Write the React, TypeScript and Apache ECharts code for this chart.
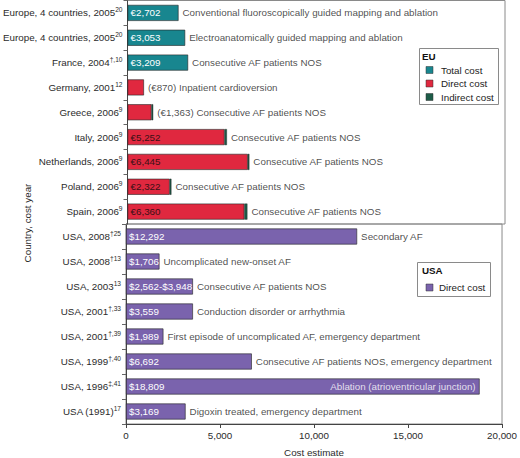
import React, { useEffect, useRef } from "react";
import * as echarts from "echarts";

const FONT = '"Liberation Sans", Arial, Helvetica, sans-serif';
const FS = 9.8;

// EU block
const euCountries = [
  "Europe, 4 countries, 2005",
  "Europe, 4 countries, 2005",
  "France, 2004",
  "Germany, 2001",
  "Greece, 2006",
  "Italy, 2006",
  "Netherlands, 2006",
  "Poland, 2006",
  "Spain, 2006",
];
const euRefs = ["20", "20", "†,10", "12", "9", "9", "9", "9", "9"];
const euTotal: (number | null)[] = [2702, 3053, 3209, null, null, null, null, null, null];
const euDirect: (number | null)[] = [null, null, null, 870, 1270, 5140, 6370, 2235, 6190];
const euIndirect: (number | null)[] = [null, null, null, null, 90, 125, 85, 90, 160];
const euValueLabels = ["€2,702", "€3,053", "€3,209", "", "", "€5,252", "€6,445", "€2,322", "€6,360"];
const euNotes = [
  "Conventional fluoroscopically guided mapping and ablation",
  "Electroanatomically guided mapping and ablation",
  "Consecutive AF patients NOS",
  "(€870) Inpatient cardioversion",
  "(€1,363) Consecutive AF patients NOS",
  "Consecutive AF patients NOS",
  "Consecutive AF patients NOS",
  "Consecutive AF patients NOS",
  "Consecutive AF patients NOS",
];

// USA block
const usaCountries = [
  "USA, 2008",
  "USA, 2008",
  "USA, 2003",
  "USA, 2001",
  "USA, 2001",
  "USA, 1999",
  "USA, 1996",
  "USA (1991)",
];
const usaRefs = ["†25", "†13", "13", "†,33", "†,39", "†,40", "‡,41", "17"];
const usaDirect = [12292, 1780, 3560, 3559, 1989, 6692, 18809, 3169];
const usaValueLabels = ["$12,292", "$1,706", "$2,562-$3,948", "$3,559", "$1,989", "$6,692", "$18,809", "$3,169"];
const usaNotes = [
  "Secondary AF",
  "Uncomplicated new-onset AF",
  "Consecutive AF patients NOS",
  "Conduction disorder or arrhythmia",
  "First episode of uncomplicated AF, emergency department",
  "Consecutive AF patients NOS, emergency department",
  "Ablation (atrioventricular junction)",
  "Digoxin treated, emergency department",
];
const usaNoteInside = [false, false, false, false, false, false, true, false];

const xTicks = { min: 0, max: 20000, interval: 5000 };

const TEAL = "#18868f";
const RED = "#e0283f";
const DARKGREEN = "#1d5c48";
const PURPLE = "#7a63ad";

const fmtNum = (v: number) => v.toLocaleString("en-US");

export default function App() {
  const ref = useRef<HTMLDivElement>(null);
  useEffect(() => {
    if (!ref.current) return;
    const chart = echarts.init(ref.current, null, { renderer: "svg" });

    const euEnd = euCountries.map(
      (_, i) => (euTotal[i] ?? 0) + (euDirect[i] ?? 0) + (euIndirect[i] ?? 0)
    );

    const catLabel = (names: string[], refs: string[]) => ({
      interval: 0,
      margin: 5,
      formatter: (v: string) => {
        const i = Number(v);
        return `{a|${names[i]}}{s|${refs[i]}}`;
      },
      rich: {
        a: { fontSize: FS, fontFamily: FONT, color: "#2b2b2b", lineHeight: 13 },
        s: { fontSize: 6.6, fontFamily: FONT, color: "#2b2b2b", lineHeight: 6, verticalAlign: "top" },
      },
    });

    const barBase = {
      type: "bar",
      barWidth: 16,
      silent: true,
    };
    const border = { borderColor: "#222", borderWidth: 0.6 };

    chart.setOption({
      animation: false,
      textStyle: { fontFamily: FONT },
      grid: [
        { left: 126, top: 0.5, width: 379, height: 223.5, show: true, borderColor: "#8a8a8a", borderWidth: 1 },
        { left: 126, top: 224, width: 379, height: 200, show: true, borderColor: "#8a8a8a", borderWidth: 1 },
      ],
      xAxis: [
        { type: "value", gridIndex: 0, ...xTicks, show: false, splitLine: { show: false } },
        {
          type: "value",
          gridIndex: 1,
          ...xTicks,
          splitLine: { show: false },
          axisLine: { show: true, lineStyle: { color: "#444" } },
          axisTick: { show: true, length: 4, lineStyle: { color: "#444" } },
          axisLabel: {
            margin: 6,
            fontSize: FS,
            color: "#2b2b2b",
            fontFamily: FONT,
            formatter: (v: number) => fmtNum(v),
          },
          name: "Cost estimate",
          nameLocation: "middle",
          nameGap: 23,
          nameTextStyle: { fontSize: FS, color: "#2b2b2b", fontFamily: FONT },
        },
      ],
      yAxis: [
        {
          type: "category",
          gridIndex: 0,
          inverse: true,
          data: euCountries.map((_, i) => String(i)),
          axisLine: { show: true, lineStyle: { color: "#444" } },
          axisTick: { show: true, length: 4, lineStyle: { color: "#666" } },
          axisLabel: catLabel(euCountries, euRefs),
        },
        {
          type: "category",
          gridIndex: 1,
          inverse: true,
          data: usaCountries.map((_, i) => String(i)),
          axisLine: { show: true, lineStyle: { color: "#444" } },
          axisTick: { show: true, length: 4, lineStyle: { color: "#666" } },
          axisLabel: catLabel(usaCountries, usaRefs),
        },
      ],
      series: [
        {
          ...barBase,
          name: "Total cost",
          xAxisIndex: 0,
          yAxisIndex: 0,
          stack: "eu",
          data: euTotal,
          itemStyle: { color: TEAL, ...border },
          label: {
            show: true,
            position: "insideLeft",
            distance: 3,
            color: "#fff",
            fontSize: FS,
            fontFamily: FONT,
            formatter: (p: any) => euValueLabels[p.dataIndex],
          },
        },
        {
          ...barBase,
          name: "Direct cost",
          xAxisIndex: 0,
          yAxisIndex: 0,
          stack: "eu",
          data: euDirect,
          itemStyle: { color: RED, ...border },
          label: {
            show: true,
            position: "insideLeft",
            distance: 3,
            color: "#3a1016",
            fontSize: FS,
            fontFamily: FONT,
            formatter: (p: any) => euValueLabels[p.dataIndex],
          },
        },
        {
          ...barBase,
          name: "Indirect cost",
          xAxisIndex: 0,
          yAxisIndex: 0,
          stack: "eu",
          data: euIndirect,
          itemStyle: { color: DARKGREEN, borderColor: "#222", borderWidth: 0.4 },
        },
        {
          type: "scatter",
          name: "EU notes",
          xAxisIndex: 0,
          yAxisIndex: 0,
          symbolSize: 0,
          silent: true,
          z: 5,
          data: euNotes.map((_, i) => [euEnd[i], i]),
          label: {
            show: true,
            position: "right",
            distance: 4,
            color: "#222",
            fontSize: FS,
            fontFamily: FONT,
            formatter: (p: any) => euNotes[p.dataIndex],
          },
        },
        {
          ...barBase,
          name: "USA Direct cost",
          xAxisIndex: 1,
          yAxisIndex: 1,
          data: usaDirect,
          itemStyle: { color: PURPLE, ...border },
          label: {
            show: true,
            position: "insideLeft",
            distance: 3,
            color: "#fff",
            fontSize: FS,
            fontFamily: FONT,
            formatter: (p: any) => usaValueLabels[p.dataIndex],
          },
        },
        {
          type: "scatter",
          name: "USA notes",
          xAxisIndex: 1,
          yAxisIndex: 1,
          symbolSize: 0,
          silent: true,
          z: 5,
          data: usaNotes.map((_, i) =>
            usaNoteInside[i]
              ? { value: [usaDirect[i], i], label: { position: "left", color: "#fff" } }
              : { value: [usaDirect[i], i] }
          ),
          label: {
            show: true,
            position: "right",
            distance: 4,
            color: "#222",
            fontSize: FS,
            fontFamily: FONT,
            formatter: (p: any) => usaNotes[p.dataIndex],
          },
        },
      ],
      graphic: [
        {
          type: "text",
          x: 27,
          y: 223,
          rotation: Math.PI / 2,
          style: {
            text: "Country, cost year",
            align: "center",
            verticalAlign: "middle",
            fontSize: FS,
            fontFamily: FONT,
            fill: "#2b2b2b",
          },
        },
        {
          type: "group",
          children: [
            { type: "rect", shape: { x: 419.5, y: 48.5, width: 79, height: 56 }, style: { fill: "#fff", stroke: "#8a8a8a", lineWidth: 1 } },
            { type: "text", x: 422, y: 56, style: { text: "EU", fontWeight: "bold", fontSize: FS, fontFamily: FONT, fill: "#111", verticalAlign: "middle" } },
            { type: "rect", shape: { x: 426, y: 66.5, width: 7, height: 7 }, style: { fill: TEAL, stroke: "#333", lineWidth: 0.5 } },
            { type: "text", x: 441, y: 70, style: { text: "Total cost", fontSize: FS, fontFamily: FONT, fill: "#222", verticalAlign: "middle" } },
            { type: "rect", shape: { x: 426, y: 80, width: 7, height: 7 }, style: { fill: RED, stroke: "#333", lineWidth: 0.5 } },
            { type: "text", x: 441, y: 83.5, style: { text: "Direct cost", fontSize: FS, fontFamily: FONT, fill: "#222", verticalAlign: "middle" } },
            { type: "rect", shape: { x: 426, y: 93.5, width: 7, height: 7 }, style: { fill: DARKGREEN, stroke: "#333", lineWidth: 0.5 } },
            { type: "text", x: 441, y: 97, style: { text: "Indirect cost", fontSize: FS, fontFamily: FONT, fill: "#222", verticalAlign: "middle" } },
          ],
        },
        {
          type: "group",
          children: [
            { type: "rect", shape: { x: 417.5, y: 262.5, width: 73, height: 34 }, style: { fill: "#fff", stroke: "#8a8a8a", lineWidth: 1 } },
            { type: "text", x: 422, y: 270.5, style: { text: "USA", fontWeight: "bold", fontSize: FS, fontFamily: FONT, fill: "#111", verticalAlign: "middle" } },
            { type: "rect", shape: { x: 426, y: 284, width: 7, height: 7 }, style: { fill: PURPLE, stroke: "#333", lineWidth: 0.5 } },
            { type: "text", x: 439, y: 287.5, style: { text: "Direct cost", fontSize: FS, fontFamily: FONT, fill: "#222", verticalAlign: "middle" } },
          ],
        },
      ],
    });

    return () => chart.dispose();
  }, []);

  return (
    <div
      ref={ref}
      style={{ position: "fixed", left: 0, top: 0, width: 520, height: 458, background: "#fff" }}
    />
  );
}
